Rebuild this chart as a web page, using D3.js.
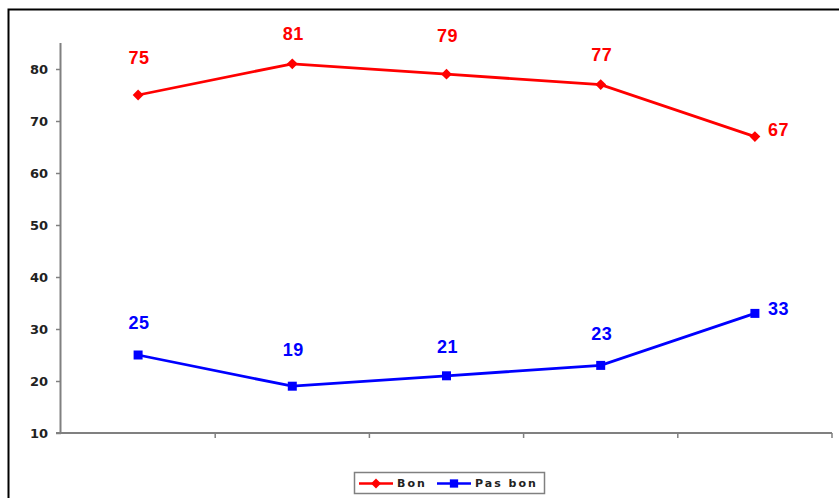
<!DOCTYPE html>
<html>
<head>
<meta charset="utf-8">
<script src="https://cdn.jsdelivr.net/npm/d3@7"></script>
<style>
  html, body { margin: 0; padding: 0; background: #fff; }
  svg { display: block; }
</style>
</head>
<body>
<script>
// Survey periods (unlabelled on the axis) and the two answer series
const categories = ["P1", "P2", "P3", "P4", "P5"];
const bonValues = [75, 81, 79, 77, 67];
const pasBonValues = [25, 19, 21, 23, 33];
const yTicks = [10, 20, 30, 40, 50, 60, 70, 80];
const seriesNames = ["Bon", "Pas bon"];

// Label nudges (px) relative to each point; the last label sits to the right
const bonLabelDy = [-37, -30, -39, -30, -7];
const pasLabelDy = [-32, -37, -29, -32, -5];

const W = 839, H = 498;
const svg = d3.select("body").append("svg").attr("width", W).attr("height", H);

// Outer frame (runs off the right and bottom edges)
svg.append("path")
  .attr("d", `M8.5,${H + 2} V9.5 H${W + 2}`)
  .attr("fill", "none").attr("stroke", "#000").attr("stroke-width", 2);

const plotL = 61, plotR = 832, plotT = 43, plotB = 433;

const x = d3.scaleBand().domain(categories).range([plotL, plotR]).paddingInner(0).paddingOuter(0);
const y = d3.scaleLinear().domain([10, 85]).range([plotB, plotT]);

const tickFont = "'DejaVu Sans', Verdana, sans-serif";
const labelFont = "'Liberation Sans', Arial, sans-serif";

// Y axis
const yAxis = svg.append("g").attr("transform", `translate(${plotL},0)`)
  .call(d3.axisLeft(y).tickValues(yTicks).tickSize(5).tickPadding(8).tickFormat(d3.format("d")));
yAxis.select(".domain").attr("stroke", "#808080").attr("stroke-width", 2)
  .attr("d", `M-0.5,${plotT}V${plotB}`);
yAxis.selectAll(".tick line").attr("stroke", "#808080").attr("stroke-width", 1.5);
yAxis.selectAll(".tick text").attr("font-family", tickFont).attr("font-size", 13)
  .attr("font-weight", "bold").attr("fill", "#222");

// X axis: ticks on category boundaries, no labels
const xBoundaries = categories.map(c => x(c) + x.bandwidth());
const xAxis = svg.append("g").attr("transform", `translate(0,${plotB})`);
xAxis.append("line").attr("x1", plotL - 5).attr("x2", plotR)
  .attr("stroke", "#808080").attr("stroke-width", 2);
xAxis.selectAll("line.tk").data(xBoundaries).join("line").attr("class", "tk")
  .attr("x1", d => d).attr("x2", d => d).attr("y1", 0).attr("y2", 5)
  .attr("stroke", "#808080").attr("stroke-width", 1.5);

const cx = c => x(c) + x.bandwidth() / 2;
const line = d3.line().x(d => cx(d.c)).y(d => y(d.v));

function markerPath(marker, scale) {
  return d3.symbol()
    .type(marker === "diamond" ? d3.symbolDiamond2 : d3.symbolSquare)
    .size((marker === "diamond" ? 75 : 81) * scale)();
}

function drawSeries(values, color, marker, dys) {
  const data = values.map((v, i) => ({ c: categories[i], v }));
  const last = data.length - 1;
  svg.append("path").datum(data).attr("d", line)
    .attr("fill", "none").attr("stroke", color).attr("stroke-width", 2.8);
  svg.selectAll(null).data(data).join("path")
    .attr("d", markerPath(marker, 1))
    .attr("transform", d => `translate(${cx(d.c)},${y(d.v)})`)
    .attr("fill", color);
  svg.selectAll(null).data(data).join("text")
    .attr("x", (d, i) => i === last ? cx(d.c) + 13 : cx(d.c) + 1)
    .attr("y", (d, i) => y(d.v) + dys[i])
    .attr("dy", "0.36em")
    .attr("text-anchor", (d, i) => i === last ? "start" : "middle")
    .attr("font-family", labelFont).attr("font-size", 18).attr("font-weight", "bold")
    .attr("letter-spacing", 0.5)
    .attr("fill", color)
    .text(d => d.v);
}

drawSeries(bonValues, "#ff0000", "diamond", bonLabelDy);
drawSeries(pasBonValues, "#0000ff", "square", pasLabelDy);

// Legend
const lg = svg.append("g").attr("transform", "translate(354,472)");
lg.append("rect").attr("x", 0.5).attr("y", 0.5).attr("width", 190).attr("height", 21)
  .attr("fill", "#fff").attr("stroke", "#808080").attr("stroke-width", 1.5);
const items = [
  { name: seriesNames[0], color: "#ff0000", marker: "diamond", x: 5 },
  { name: seriesNames[1], color: "#0000ff", marker: "square", x: 83 }
];
items.forEach(it => {
  const g = lg.append("g").attr("transform", `translate(${it.x},11.5)`);
  g.append("line").attr("x1", 0).attr("x2", 34).attr("stroke", it.color).attr("stroke-width", 2.5);
  g.append("path").attr("d", markerPath(it.marker, 0.85))
    .attr("transform", "translate(17,0)").attr("fill", it.color);
  g.append("text").attr("x", 38).attr("dy", "0.36em")
    .attr("font-family", tickFont).attr("font-size", 11).attr("font-weight", "bold")
    .attr("letter-spacing", 2).attr("fill", "#222").text(it.name);
});
</script>
</body>
</html>
